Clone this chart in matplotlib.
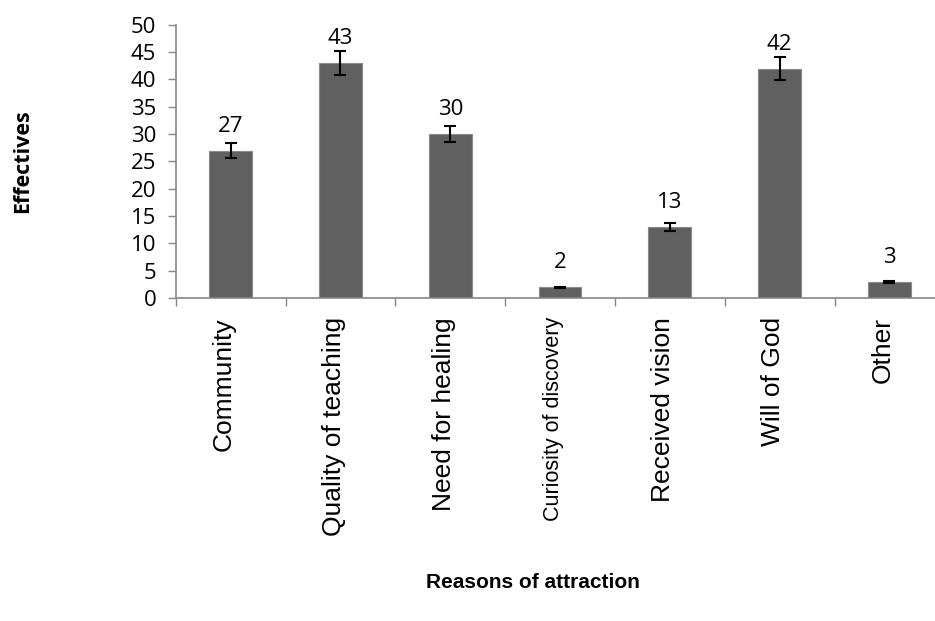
import numpy as np
import matplotlib
matplotlib.use("Agg")
import matplotlib.pyplot as plt

categories = ["Community", "Quality of teaching", "Need for healing",
              "Curiosity of discovery", "Received vision", "Will of God", "Other"]
values = [27, 43, 30, 2, 13, 42, 3]
errors = [1.4, 2.2, 1.5, 0.1, 0.7, 2.1, 0.15]
yticks = [0, 5, 10, 15, 20, 25, 30, 35, 40, 45, 50]

axis_grey = "#868686"

fig = plt.figure(figsize=(9.35, 6.21), dpi=100)
ax = fig.add_axes([0.188, 0.520, 0.822, 0.440])

x = np.arange(len(categories))
ax.bar(x, values, width=0.39, color="#606060", edgecolor="#8a8a8a", linewidth=0.8,
       zorder=2)
ax.errorbar(x, values, yerr=errors, fmt="none", ecolor="black", elinewidth=1.5,
            capsize=4.5, capthick=1.5, zorder=3)

# value labels a fixed distance above each bar
for xi, v in zip(x, values):
    ax.annotate(str(v), (xi, v), xytext=(0, 13.5), textcoords="offset points",
                ha="center", va="baseline", fontsize=16, family="Open Sans")

ax.set_xlim(-0.5, len(categories) - 0.5)
ax.set_ylim(0, 50)
ax.set_yticks(yticks)
ax.set_yticklabels([str(t) for t in yticks], fontsize=16, family="Open Sans")
ax.tick_params(axis="y", direction="out", length=6, width=1, color=axis_grey, pad=8)

# category boundaries carry the ticks, labels sit in the middle
ax.set_xticks(np.arange(len(categories) + 1) - 0.5)
ax.set_xticklabels([])
ax.tick_params(axis="x", direction="out", length=6, width=1, color=axis_grey)
for xi, name in zip(x, categories):
    size = 15.5 if name.startswith("Curiosity") else 19
    ax.text(xi - 0.06, -3.5, name, rotation=90, ha="center", va="top",
            fontsize=size, family="Liberation Sans")

for side in ["top", "right"]:
    ax.spines[side].set_visible(False)
for side in ["left", "bottom"]:
    ax.spines[side].set_color(axis_grey)
    ax.spines[side].set_linewidth(1.2)

fig.text(0.570, 0.062, "Reasons of attraction", ha="center", va="center",
         fontsize=15, fontweight="bold", family="Liberation Sans")
fig.text(0.024, 0.740, "Effectives", ha="center", va="center", rotation=90,
         fontsize=15.5, fontweight="bold", family="Open Sans")

fig.savefig("out.png", dpi=100)
